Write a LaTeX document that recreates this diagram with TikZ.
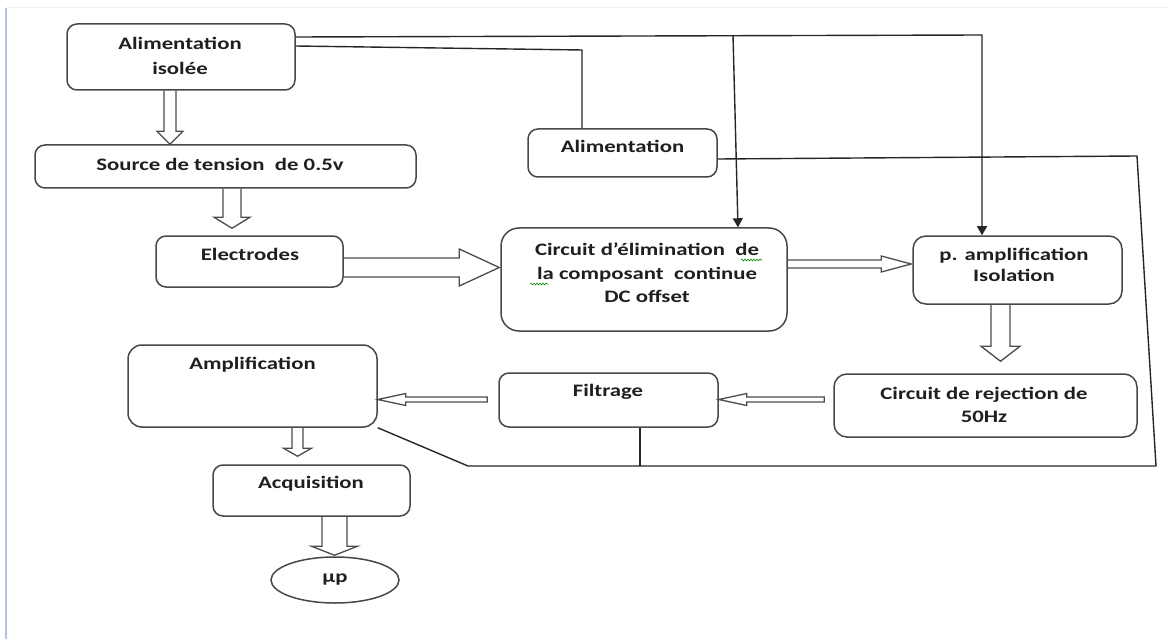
\documentclass[tikz,border=0pt]{standalone}
\usepackage{fontspec}
\setmainfont{Carlito}[FakeStretch=1.3]
\usetikzlibrary{arrows.meta,calc,decorations.pathmorphing,shapes.geometric}
\pgfdeclarelayer{bg}
\pgfsetlayers{bg,main}

\tikzset{
  box/.style={draw=black!72, line width=1.5pt, rounded corners=10pt, inner sep=0pt},
  lbl/.style={font=\fontsize{17.5}{23.5}\selectfont\bfseries, text=black!88, align=center, inner sep=0pt},
  wire/.style={draw=black!85, line width=1.4pt},
  tipdown/.style={-{Triangle[width=10pt,length=9pt]}},
  hollow/.style={draw=black!70, line width=1.3pt, fill=white, line join=miter},
  squig/.style={draw=green!55!black, line width=0.6pt, decorate,
    decoration={snake, amplitude=0.9pt, segment length=3pt}},
}

% hollow block arrows, sizes in px:
% axis, from node, to node, gap at tip, stem half-width, head half-width, head length
\newcommand\hdown[7]{%
  \begin{pgfonlayer}{bg}
  \draw[hollow] let \p1=(#2.south), \p2=(#3.north) in
    ({(#1-#5)*1pt},\y1) -- ({(#1-#5)*1pt},\y2+#4pt+#7pt) -- ({(#1-#6)*1pt},\y2+#4pt+#7pt)
    -- ({#1*1pt},\y2+#4pt) -- ({(#1+#6)*1pt},\y2+#4pt+#7pt) -- ({(#1+#5)*1pt},\y2+#4pt+#7pt)
    -- ({(#1+#5)*1pt},\y1);
  \end{pgfonlayer}}
\newcommand\hright[7]{%
  \begin{pgfonlayer}{bg}
  \draw[hollow] let \p1=(#2.east), \p2=(#3.west) in
    (\x1,{-(#1-#5)*1pt}) -- (\x2-#4pt-#7pt,{-(#1-#5)*1pt}) -- (\x2-#4pt-#7pt,{-(#1-#6)*1pt})
    -- (\x2-#4pt,{-#1*1pt}) -- (\x2-#4pt-#7pt,{-(#1+#6)*1pt}) -- (\x2-#4pt-#7pt,{-(#1+#5)*1pt})
    -- (\x1,{-(#1+#5)*1pt});
  \end{pgfonlayer}}
% left arrow with a closed tail, set off from its source box
\newcommand\hleft[7]{%
  \begin{pgfonlayer}{bg}
  \draw[hollow] let \p1=(#2.west), \p2=(#3.east) in
    (\x1-#4pt,{-(#1-#5)*1pt}) -- (\x2+#7pt,{-(#1-#5)*1pt}) -- (\x2+#7pt,{-(#1-#6)*1pt})
    -- (\x2,{-#1*1pt}) -- (\x2+#7pt,{-(#1+#6)*1pt}) -- (\x2+#7pt,{-(#1+#5)*1pt})
    -- (\x1-#4pt,{-(#1+#5)*1pt}) -- cycle;
  \end{pgfonlayer}}

\begin{document}
\begin{tikzpicture}[x=1pt, y=-1pt]
\useasboundingbox (0,0) rectangle (1167,639);

% page frame
\draw[color={rgb,255:red,176;green,196;blue,232}, line width=2pt] (5.5,8) -- (5.5,639);
\draw[black!6, line width=1pt] (6,8) -- (1167,8);

% blocks
\node[box, minimum width=228pt, minimum height=66pt] (isol) at (181,57) {};
\node[box, minimum width=381pt, minimum height=43pt] (src)  at (225.5,166.5) {};
\node[box, minimum width=187pt, minimum height=51pt] (elec) at (249.5,261.5) {};
\node[box, minimum width=286pt, minimum height=103pt, rounded corners=18pt] (circ) at (644,279.5) {};
\node[box, minimum width=209pt, minimum height=68pt, rounded corners=13pt] (pamp) at (1017.5,270) {};
\node[box, minimum width=303pt, minimum height=63pt, rounded corners=13pt] (rej)  at (985.5,405.5) {};
\node[box, minimum width=219pt, minimum height=54pt] (filt) at (608.5,400) {};
\node[box, minimum width=249pt, minimum height=82pt, rounded corners=14pt] (amp)  at (252.5,386) {};
\node[box, minimum width=197pt, minimum height=51pt] (acq)  at (311.5,490.5) {};
\node[box, minimum width=189pt, minimum height=48pt] (alim) at (622.5,153) {};
\node[draw=black!72, line width=1.5pt, ellipse, minimum width=128pt, minimum height=46pt, inner sep=0pt] (mup) at (335,580) {};

% labels
\node[lbl] (isolT) at (180,55.5) {Alimentation\\[1.5pt]isolée};
\node[lbl] (srcT)  at (220,164) {Source de tension~ de 0.5v};
\node[lbl] (elecT) at (250,254) {Electrodes};
\node[lbl] (circT) at (647,273) {Circuit d’élimination~ de\\la composant~ continue\\DC offset};
\node[lbl] (pampT) at (1014,265) {p. amplification\\[-3pt]Isolation};
\node[lbl] (rejT)  at (984,405) {Circuit de rejection de\\50Hz};
\node[lbl] (filtT) at (608,392) {Filtrage};
\node[lbl] (ampT)  at (252.5,365) {Amplification};
\node[lbl] (acqT)  at (311,484) {Acquisition};
\node[lbl] (alimT) at (622.5,146) {Alimentation};
\node[lbl] (mupT)  at (mup) {µp};

% spelling marks under two words
\draw[squig] (741,260) -- (762,260);
\draw[squig] (530,284) -- (548,284);

% signal path (hollow arrows)
\hdown{170}{isol}{src}{0}{6}{13}{13}
\hdown{232}{src}{elec}{7}{9}{18}{11}
\hright{267.5}{elec}{circ}{1}{9.5}{18.5}{40}
\hright{264}{circ}{pamp}{1}{4}{8}{30}
\hdown{1000.5}{pamp}{rej}{12}{9.5}{19.5}{15}
\hleft{399.5}{rej}{filt}{9}{2.5}{6}{28}
\hleft{399.5}{filt}{amp}{11}{2.5}{6}{28}
\hdown{297.5}{amp}{acq}{8}{5.5}{14}{8}
\hdown{334.5}{acq}{mup}{1}{12.5}{23}{9}

% supply wiring
\coordinate (tA) at (982,35);
\coordinate (tB) at (733,35);
\coordinate (tC) at (582,50);
\coordinate (rA) at (1137,156);
\coordinate (rB) at (1156,466);
\coordinate (bA) at (468,466);
\coordinate (bF) at (640,466);

\draw[wire, tipdown] ([yshift=20pt]isol.east) -- (tA) -- (tA |- pamp.north);
\draw[wire, tipdown] (tB) -- ([xshift=94pt]circ.north);
\draw[wire] ([yshift=11pt]isol.east) -- (tC) -- (tC |- alim.north);
\draw[wire] ([yshift=-6pt]alim.east) -- (rA) -- (rB) -- (bA) -- (amp.south east);
\draw[wire] ([xshift=31.5pt]filt.south) -- (bF);
\end{tikzpicture}
\end{document}
